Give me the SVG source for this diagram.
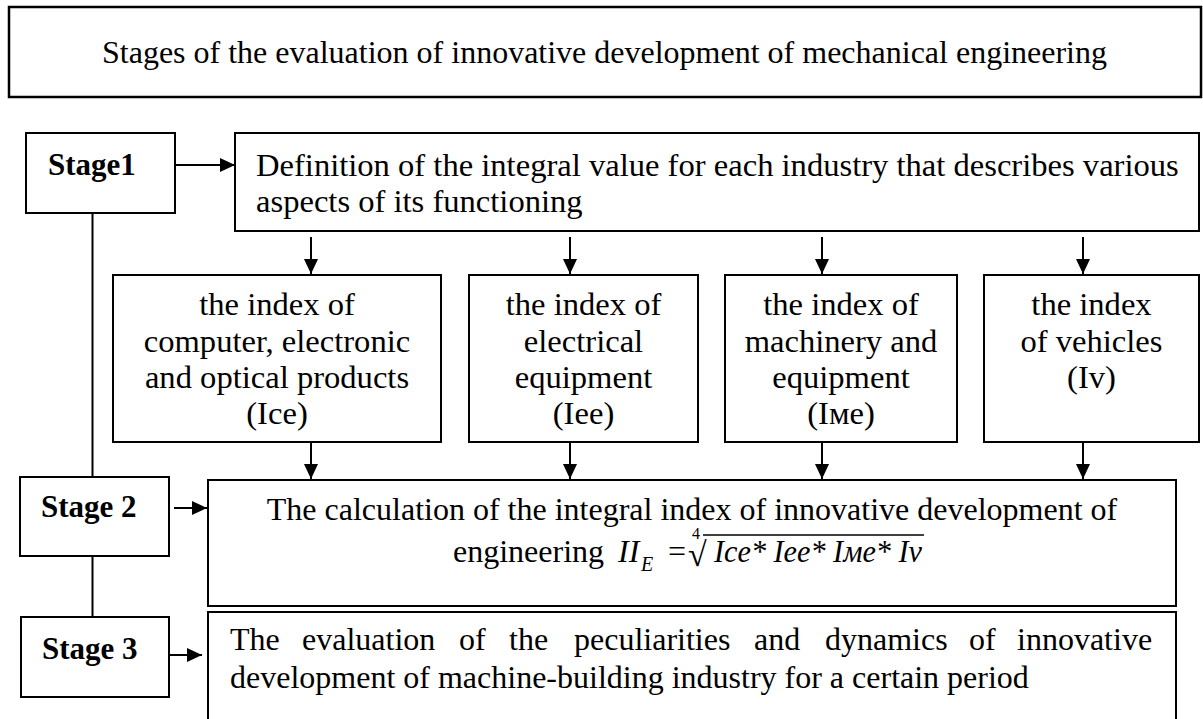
<svg xmlns="http://www.w3.org/2000/svg" width="1203" height="719" viewBox="0 0 1203 719">
  <defs>
    <marker id="ah" viewBox="0 0 15 14" refX="15" refY="7" markerWidth="15" markerHeight="14" markerUnits="userSpaceOnUse" orient="auto">
      <path d="M0,0 L15,7 L0,14 Z" fill="#000"/>
    </marker>
    <style>
      .box { fill: #fff; stroke: #000; stroke-width: 2; }
      .t { font-family: 'Liberation Serif', 'Times New Roman', serif; font-size: 32px; fill: #000; }
      .l { font-size: 32.6px; }
      .c { text-anchor: middle; }
      .b { font-weight: bold; font-size: 31px; }
      .i { font-style: italic; }
      .con { stroke: #000; stroke-width: 2; fill: none; }
      .arr { stroke: #000; stroke-width: 2; fill: none; marker-end: url(#ah); }
    </style>
  </defs>
  <rect width="1203" height="719" fill="#fff"/>

  <g id="title">
    <rect class="box" x="9" y="7" width="1192" height="90" style="stroke-width:2.5"/>
    <text class="t c" x="604.5" y="63">Stages of the evaluation of innovative development of mechanical engineering</text>
  </g>

  <g id="stage1">
    <rect class="box" x="26" y="133" width="149" height="80"/>
    <text class="t b" x="48" y="175">Stage1</text>
  </g>
  <g id="stage2">
    <rect class="box" x="20" y="477" width="149" height="79"/>
    <text class="t b" x="41" y="517">Stage 2</text>
  </g>
  <g id="stage3">
    <rect class="box" x="21" y="617" width="148" height="80"/>
    <text class="t b" x="42" y="659">Stage 3</text>
  </g>

  <g id="definition">
    <rect class="box" x="235" y="133" width="964" height="98"/>
    <text class="t l" x="256" y="176">Definition of the integral value for each industry that describes various</text>
    <text class="t l" x="256" y="212">aspects of its functioning</text>
  </g>

  <g id="index-ice">
    <rect class="box" x="113" y="275" width="328" height="167"/>
    <text class="t l c" x="277" y="315">the index of</text>
    <text class="t l c" x="277" y="352">computer, electronic</text>
    <text class="t l c" x="277" y="388">and optical products</text>
    <text class="t l c" x="277" y="424">(Ice)</text>
  </g>
  <g id="index-iee">
    <rect class="box" x="469" y="275" width="229" height="167"/>
    <text class="t l c" x="583.5" y="315">the index of</text>
    <text class="t l c" x="583.5" y="352">electrical</text>
    <text class="t l c" x="583.5" y="388">equipment</text>
    <text class="t l c" x="583.5" y="424">(Iee)</text>
  </g>
  <g id="index-ime">
    <rect class="box" x="725" y="275" width="232" height="167"/>
    <text class="t l c" x="841" y="315">the index of</text>
    <text class="t l c" x="841" y="352">machinery and</text>
    <text class="t l c" x="841" y="388">equipment</text>
    <text class="t l c" x="841" y="424">(Iме)</text>
  </g>
  <g id="index-iv">
    <rect class="box" x="984" y="275" width="215" height="167"/>
    <text class="t l c" x="1091.5" y="315">the index</text>
    <text class="t l c" x="1091.5" y="352">of vehicles</text>
    <text class="t l c" x="1091.5" y="388">(Iv)</text>
  </g>

  <g id="calculation">
    <rect class="box" x="208" y="480" width="968" height="126"/>
    <text class="t c" x="692" y="520">The calculation of the integral index of innovative development of</text>
    <text class="t" x="453" y="562">engineering</text>
    <text class="t i" x="618" y="562">II</text>
    <text class="t i" x="641" y="571" style="font-size:20px">E</text>
    <text class="t" x="668" y="562">=</text>
    <text class="t" x="692" y="539" style="font-size:16px">4</text>
    <text class="t" x="688" y="566" style="font-size:34px">√</text>
    <line x1="703" y1="535" x2="924" y2="535" stroke="#000" stroke-width="1.5"/>
    <text class="t i" x="714" y="562" textLength="208" lengthAdjust="spacingAndGlyphs">Ice* Iee* Iме* Iv</text>
  </g>

  <g id="evaluation">
    <rect class="box" x="208" y="612" width="968" height="130"/>
    <text class="t" y="650"><tspan x="230">The</tspan><tspan x="302">evaluation</tspan><tspan x="459">of</tspan><tspan x="509">the</tspan><tspan x="574">peculiarities</tspan><tspan x="754">and</tspan><tspan x="825">dynamics</tspan><tspan x="969">of</tspan><tspan x="1017">innovative</tspan></text>
    <text class="t" x="230" y="688">development of machine-building industry for a certain period</text>
  </g>

  <g id="connectors">
    <line class="con" x1="92.5" y1="213" x2="92.5" y2="477"/>
    <line class="con" x1="92.5" y1="556" x2="92.5" y2="617"/>
    <line class="arr" x1="175" y1="165" x2="235" y2="165"/>
    <line class="arr" x1="174" y1="508" x2="207" y2="508"/>
    <line class="arr" x1="169" y1="655" x2="202" y2="655"/>
    <line class="arr" x1="311" y1="237" x2="311" y2="274"/>
    <line class="arr" x1="570" y1="237" x2="570" y2="274"/>
    <line class="arr" x1="822" y1="237" x2="822" y2="274"/>
    <line class="arr" x1="1083" y1="237" x2="1083" y2="274"/>
    <line class="arr" x1="311" y1="442" x2="311" y2="479"/>
    <line class="arr" x1="570" y1="442" x2="570" y2="479"/>
    <line class="arr" x1="822" y1="442" x2="822" y2="479"/>
    <line class="arr" x1="1083" y1="442" x2="1083" y2="479"/>
  </g>
</svg>
